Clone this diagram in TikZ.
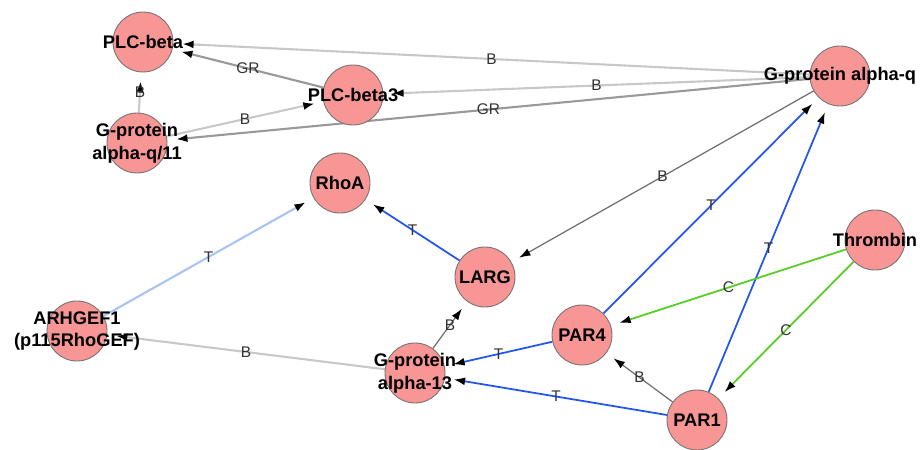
\documentclass[tikz,border=0pt]{standalone}
\usepackage{fontspec}
\setmainfont{Liberation Sans}
\usetikzlibrary{arrows.meta,backgrounds}
\definecolor{nodepink}{RGB}{248,150,150}
\definecolor{nodeline}{RGB}{115,115,115}
\definecolor{linkblue}{RGB}{35,85,240}
\definecolor{linkpaleblue}{RGB}{170,195,245}
\definecolor{linkgreen}{RGB}{85,205,35}
\definecolor{linkgray}{RGB}{110,110,110}
\definecolor{linkpale}{RGB}{200,200,200}
\definecolor{labelgray}{RGB}{50,50,50}
\begin{document}
\begin{tikzpicture}[x=0.02cm,y=-0.02cm,
    gene/.style={circle,draw=nodeline,line width=0.5pt,fill=nodepink,
      minimum size=1.2cm,inner sep=0pt},
    genetext/.style={font=\fontsize{10.4}{13}\selectfont\bfseries,
      align=center,inner sep=0pt},
    edgelabel/.style={font=\fontsize{8.8}{10}\selectfont,text=labelgray,
      inner sep=1pt},
    link/.style={-{Latex[length=6.5pt,width=4.5pt,color=black]},
      shorten >=5pt},
    bluelink/.style={link,draw=linkblue,line width=1pt},
    paleblue/.style={link,draw=linkpaleblue,line width=1.2pt},
    greenlink/.style={link,draw=linkgreen,line width=1pt},
    graylink/.style={link,draw=linkgray,line width=0.7pt},
    palelink/.style={link,draw=linkpale,line width=1.2pt}]
  \useasboundingbox (0,0) rectangle (921,450);
  \draw
    (143,42) node[gene,label={[genetext]center:PLC-beta}] (plcb) {}
    (353,95) node[gene,label={[genetext]center:PLC-beta3}] (plcb3) {}
    (137,143) node[gene,label={[genetext]center:{G-protein\\alpha-q/11}}] (gaq11) {}
    (840,76) node[gene,label={[genetext]center:G-protein alpha-q}] (gaq) {}
    (340,183) node[gene,label={[genetext]center:RhoA}] (rhoa) {}
    (485,277) node[gene,label={[genetext]center:LARG}] (larg) {}
    (77,331) node[gene,label={[genetext]center:{ARHGEF1\\(p115RhoGEF)}}] (arhgef) {}
    (415,373) node[gene,label={[genetext]center:{G-protein\\alpha-13}}] (ga13) {}
    (582,335) node[gene,label={[genetext]center:PAR4}] (par4) {}
    (875,240) node[gene,label={[genetext]center:Thrombin}] (thrombin) {}
    (697,420) node[gene,label={[genetext]center:PAR1}] (par1) {};
  \begin{scope}[on background layer]
    % pale binding links
    \draw[palelink] (gaq) to node[edgelabel]{B} (plcb);
    \draw[palelink] (gaq) to node[edgelabel]{B} (plcb3);
    \draw[palelink] (gaq11) to node[edgelabel]{B} (plcb3);
    \draw[palelink] (gaq11) to node[edgelabel]{B} (plcb);
    \draw[palelink] (ga13) to node[edgelabel]{B} (arhgef);
    \draw[palelink,draw=linkgray!70] (plcb3) to node[edgelabel]{GR} (plcb);
    \draw[palelink,draw=linkgray!70] (gaq) to node[edgelabel]{GR} (gaq11);
    % binding
    \draw[graylink] (gaq) to node[edgelabel]{B} (larg);
    \draw[graylink] (par1) to node[edgelabel]{B} (par4);
    \draw[graylink] (ga13) to node[edgelabel]{B} (larg);
    % transduction
    \draw[bluelink] (par4) to node[edgelabel]{T} (gaq);
    \draw[bluelink] (par1) to node[edgelabel]{T} (gaq);
    \draw[bluelink] (par4) to node[edgelabel]{T} (ga13);
    \draw[bluelink] (par1) to node[edgelabel]{T} (ga13);
    \draw[bluelink] (larg) to node[edgelabel]{T} (rhoa);
    \draw[paleblue] (arhgef) to node[edgelabel]{T} (rhoa);
    % cleavage
    \draw[greenlink] (thrombin) to node[edgelabel]{C} (par4);
    \draw[greenlink] (thrombin) to node[edgelabel]{C} (par1);
  \end{scope}
\end{tikzpicture}
\end{document}
